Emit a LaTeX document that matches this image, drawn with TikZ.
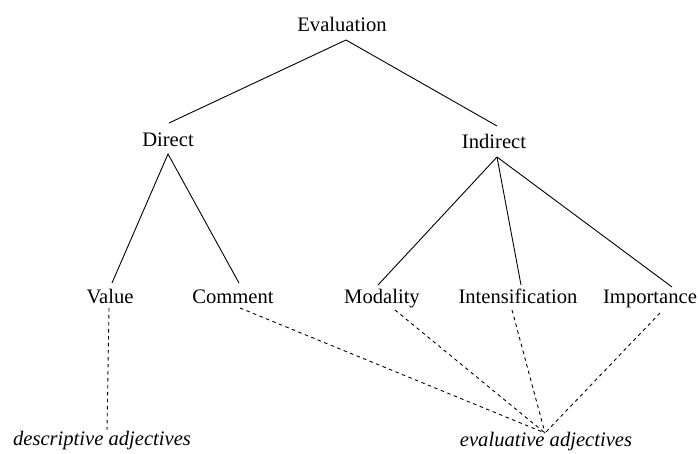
\documentclass[tikz,border=0pt]{standalone}
\usepackage{fontspec}
\setmainfont{Liberation Serif}
\begin{document}
\begin{tikzpicture}[x=1pt,y=-1pt,
  lbl/.style={anchor=base,inner sep=0pt,font=\fontsize{20.6}{24}\selectfont},
  ilbl/.style={lbl,font=\fontsize{20.6}{24}\selectfont\itshape},
  tree/.style={line width=0.9pt},
  dsh/.style={line width=0.9pt,dash pattern=on 3.5pt off 3.5pt}]
\useasboundingbox (0,0) rectangle (700,454);
\node[lbl] (eval) at (342,31.5) {Evaluation};
\node[lbl] (direct) at (168,147) {Direct};
\node[lbl] (indirect) at (494,149) {Indirect};
\node[lbl] (value) at (110,303) {Value};
\node[lbl] (comment) at (233,303) {Comment};
\node[lbl] (modality) at (382,303) {Modality};
\node[lbl] (intens) at (518,303) {Intensification};
\node[lbl] (import) at (650,303) {Importance};
\node[ilbl] (desc) at (102,445) {descriptive adjectives};
\node[ilbl] (evadj) at (546,446) {evaluative adjectives};
% tree lines
\draw[tree] ([shift={(1,-24)}]direct.base) -- ([shift={(4,8.5)}]eval.base) -- ([shift={(3,-23)}]indirect.base);
\draw[tree] ([shift={(2,-20)}]value.base) -- ([shift={(0,7)}]direct.base) -- ([shift={(6,-20)}]comment.base);
\draw[tree] ([shift={(3,8)}]indirect.base) -- ([shift={(-4,-18)}]modality.base);
\draw[tree] ([shift={(3,8)}]indirect.base) -- ([shift={(3,-18)}]intens.base);
\draw[tree] ([shift={(3,8)}]indirect.base) -- ([shift={(22,-16)}]import.base);
% dashed lines
\draw[dsh] ([shift={(-1,5)}]value.base) -- ([shift={(5,-14)}]desc.base);
\draw[dsh] ([shift={(7,5)}]comment.base) -- ([shift={(-1,-13)}]evadj.base);
\draw[dsh] ([shift={(13,7)}]modality.base) -- ([shift={(-1,-13)}]evadj.base);
\draw[dsh] ([shift={(-6,7)}]intens.base) -- ([shift={(-1,-13)}]evadj.base);
\draw[dsh] ([shift={(10,10)}]import.base) -- ([shift={(-1,-13)}]evadj.base);
\end{tikzpicture}
\end{document}
